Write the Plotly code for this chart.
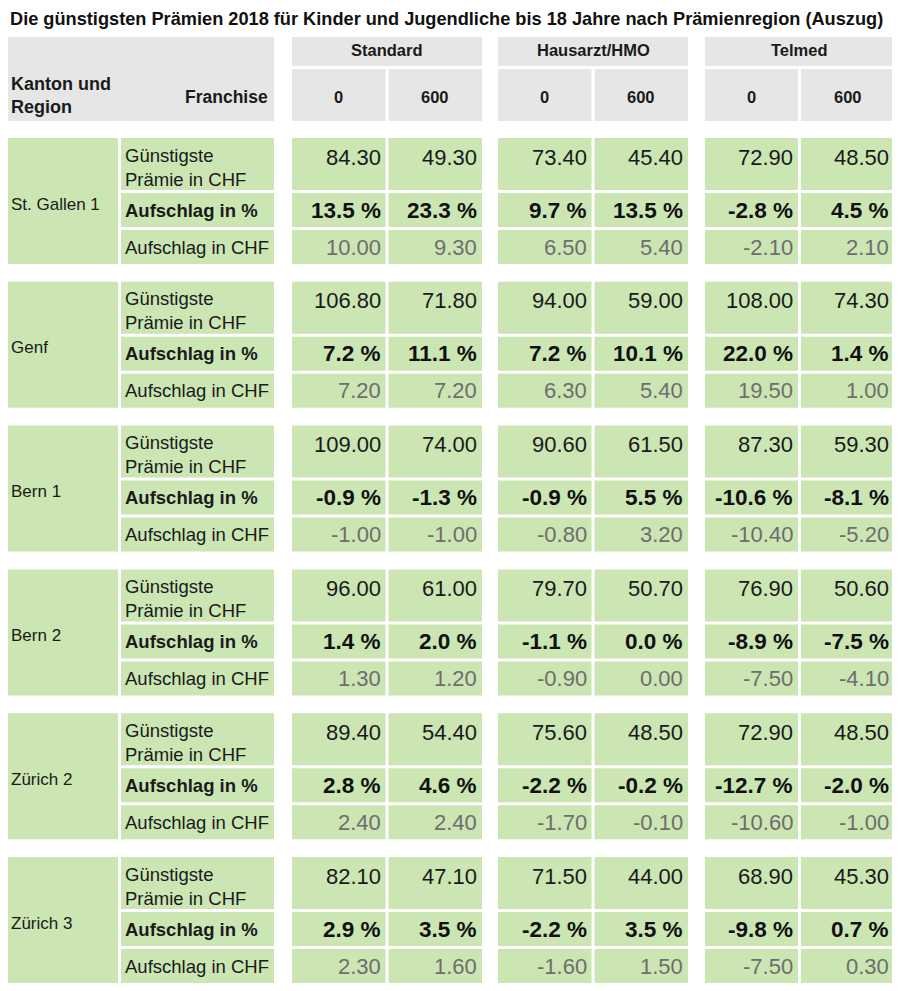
import plotly.graph_objects as go

# ---------------- data ----------------
title = "Die günstigsten Prämien 2018 für Kinder und Jugendliche bis 18 Jahre nach Prämienregion (Auszug)"
plans = ["Standard", "Hausarzt/HMO", "Telmed"]
franchises = ["0", "600"]
regions = ["St. Gallen 1", "Genf", "Bern 1", "Bern 2", "Zürich 2", "Zürich 3"]
row_labels = ["Günstigste<br>Prämie in CHF", "<b>Aufschlag in %</b>", "Aufschlag in CHF"]

# columns: Standard 0, Standard 600, HMO 0, HMO 600, Telmed 0, Telmed 600
premium = [
    [84.30, 49.30, 73.40, 45.40, 72.90, 48.50],
    [106.80, 71.80, 94.00, 59.00, 108.00, 74.30],
    [109.00, 74.00, 90.60, 61.50, 87.30, 59.30],
    [96.00, 61.00, 79.70, 50.70, 76.90, 50.60],
    [89.40, 54.40, 75.60, 48.50, 72.90, 48.50],
    [82.10, 47.10, 71.50, 44.00, 68.90, 45.30],
]
aufschlag_pct = [
    [13.5, 23.3, 9.7, 13.5, -2.8, 4.5],
    [7.2, 11.1, 7.2, 10.1, 22.0, 1.4],
    [-0.9, -1.3, -0.9, 5.5, -10.6, -8.1],
    [1.4, 2.0, -1.1, 0.0, -8.9, -7.5],
    [2.8, 4.6, -2.2, -0.2, -12.7, -2.0],
    [2.9, 3.5, -2.2, 3.5, -9.8, 0.7],
]
aufschlag_chf = [
    [10.00, 9.30, 6.50, 5.40, -2.10, 2.10],
    [7.20, 7.20, 6.30, 5.40, 19.50, 1.00],
    [-1.00, -1.00, -0.80, 3.20, -10.40, -5.20],
    [1.30, 1.20, -0.90, 0.00, -7.50, -4.10],
    [2.40, 2.40, -1.70, -0.10, -10.60, -1.00],
    [2.30, 1.60, -1.60, 1.50, -7.50, 0.30],
]

# ---------------- layout geometry ----------------
PAGE_OFF = 8            # default body margin of the html page
W, H = 900 - PAGE_OFF, 991 - PAGE_OFF
FONT = "Liberation Sans, Arial, Helvetica, sans-serif"
GREEN = "#cbe5b3"
GRAY = "#e6e6e6"
GAP = 3

region_x = (7, 118)
label_x = (121, 274)
group_x = [(292, 482), (498, 688), (705, 894)]
data_cols = []
for (a, b) in group_x:
    mid = (a + b) / 2
    data_cols.append((a, mid - GAP / 2))
    data_cols.append((mid + GAP / 2, b))

head_top, head_mid, head_bot = 37, 66, 121
block_top0 = 138
block_pitch = 143.8
row_h = [52, 34, 34]

fig = go.Figure()
shapes = []
annots = []


def rect(x0, x1, y0, y1, color):
    shapes.append(dict(type="rect", xref="x", yref="y", x0=x0, x1=x1, y0=y0, y1=y1,
                       fillcolor=color, line=dict(width=0), layer="below"))


def text(x, y, s, size, color="#1a1a1a", xanchor="center", bold=False):
    annots.append(dict(x=x, y=y, xref="x", yref="y", text=("<b>%s</b>" % s) if bold else s,
                       showarrow=False, xanchor=xanchor, yanchor="middle", align="left",
                       font=dict(family=FONT, size=size, color=color)))


# title
annots.append(dict(x=PAGE_OFF + 0.5, y=PAGE_OFF, xref="x", yref="y", text="<b>%s</b>" % title,
                   showarrow=False, xanchor="left", yanchor="top", borderpad=0,
                   font=dict(family=FONT, size=18.2, color="#111111")))

# header
rect(region_x[0], label_x[1], head_top, head_bot, GRAY)
text(PAGE_OFF + 0.5, 95, "Kanton und<br>Region", 18, xanchor="left", bold=True)
text(label_x[1] - 4, 97, "Franchise", 17.5, xanchor="right", bold=True)
for g, (a, b) in enumerate(group_x):
    rect(a, b, head_top, head_mid, GRAY)
    text((a + b) / 2, 50, plans[g], 16.5, bold=True)
    for f in range(2):
        c0, c1 = data_cols[2 * g + f]
        rect(c0, c1, head_mid + GAP, head_bot, GRAY)
        text((c0 + c1) / 2, 97, franchises[f], 16.5, bold=True)

# body
for r, reg in enumerate(regions):
    top = block_top0 + r * block_pitch
    ys = []
    y = top
    for h in row_h:
        ys.append((y, y + h))
        y += h + GAP
    bottom = ys[-1][1]
    rect(region_x[0], region_x[1], top, bottom, GREEN)
    text(PAGE_OFF + 0.5, top + 66, reg, 17, xanchor="left")
    for k in range(3):
        y0, y1 = ys[k]
        rect(label_x[0], label_x[1], y0, y1, GREEN)
        ly = top + 29 if k == 0 else (y0 + y1) / 2
        text(label_x[0] + 2, ly, row_labels[k], 18.5, xanchor="left")
        for c, (c0, c1) in enumerate(data_cols):
            rect(c0, c1, y0, y1, GREEN)
            if k == 0:
                s = "%.2f" % premium[r][c]
                text(c1 - 3, top + 19, s, 22, color="#1a1a1a", xanchor="right")
            elif k == 1:
                s = "%.1f %%" % aufschlag_pct[r][c]
                text(c1 - 3, (y0 + y1) / 2, s, 22.5, color="#111111", xanchor="right", bold=True)
            else:
                s = "%.2f" % aufschlag_chf[r][c]
                text(c1 - 3, (y0 + y1) / 2, s, 22, color="#6e6e6e", xanchor="right")

fig.update_layout(
    width=W, height=H,
    margin=dict(l=0, r=0, t=0, b=0),
    paper_bgcolor="white", plot_bgcolor="white",
    xaxis=dict(range=[PAGE_OFF, 900], visible=False, fixedrange=True),
    yaxis=dict(range=[991, PAGE_OFF], visible=False, fixedrange=True),
    shapes=shapes, annotations=annots, showlegend=False,
)
fig.write_html("out.html")
